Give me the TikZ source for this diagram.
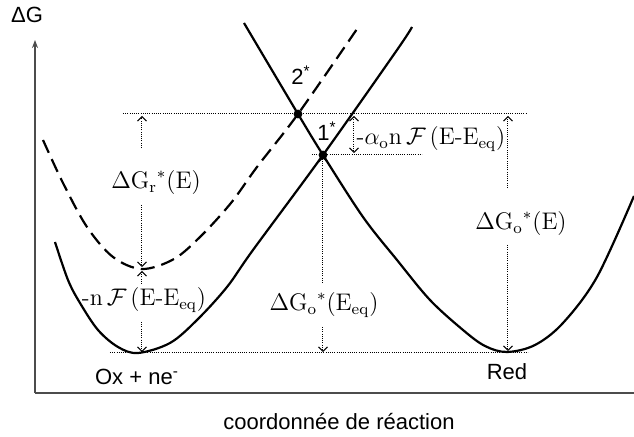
\documentclass[tikz,border=0pt]{standalone}
\usepackage{fontspec}
\setsansfont{Liberation Sans}
\usetikzlibrary{arrows.meta}
\begin{document}
\begin{tikzpicture}[x=0.5pt,y=-0.5pt,
  curve/.style={line width=1.1pt, line join=round},
  dashcurve/.style={curve, dash pattern=on 7pt off 3.5pt},
  dotline/.style={line width=0.5pt, dash pattern=on 0.5pt off 0.6pt},
  dotarrow/.style={dotline, -{Straight Barb[length=2.2pt,width=4.5pt,line width=0.5pt]}},
  axis/.style={line width=0.9pt, black!70},
  sflabel/.style={font=\sffamily\fontsize{11}{13}\selectfont, inner sep=0pt},
  mlabel/.style={font=\fontsize{12}{14}\selectfont, inner sep=0pt},
  dot/.style={circle, fill, inner sep=0pt, minimum size=4.4pt}
]
\useasboundingbox (0,0) rectangle (634,437);

% axes
\coordinate (O) at (35,393);
\coordinate (Ytop) at (35,40);
\coordinate (Xend) at (634,393);
\draw[axis, -{Stealth[length=4pt,width=3pt]}] (O) -- (Ytop);
\draw[axis] (O) -- (Xend);

% curves
\draw[curve] plot[smooth, tension=0.55] coordinates {(55,242) (68,280) (80,303) (98,330) (118,347) (138,353) (170,343) (197,320) (227,287) (253,250) (323,155) (397,50) (412,27)};
\draw[dashcurve] plot[smooth, tension=0.55] coordinates {(43,140) (63,183) (87,227) (113,257) (142,269) (174,259) (201,236) (231,203) (257,167) (298,114) (357,29)};
\draw[curve] plot[smooth, tension=0.55] coordinates {(244,23) (298,114) (323,155) (363,217) (397,260) (430,300) (463,330) (485,346) (507,352) (535,345) (563,323) (597,277) (634,196)};

% dotted levels
\draw[dotline] (123,114) -- (527,114);
\draw[dotline] (312,155) -- (422,155);
\draw[dotline] (110,353) -- (528,353);

% intersection points
\node[dot] (s2) at (298,114) {};
\node[dot] (s1) at (323,155) {};

% labels
\node[sflabel] (lDG) at (27,15) {ΔG};
\node[sflabel] (l2) at (301,75) {2\textsuperscript{*}};
\node[sflabel] (l1) at (327,131) {1\textsuperscript{*}};
\node[mlabel] (lalpha) at (431,139) {$\mbox{-}\alpha_{\mathrm{o}}\mathrm{n}\,\mathcal{F}\,\mathrm{(E\mbox{-}E_{eq})}$};
\node[mlabel] (lGr) at (156,183) {$\Delta\mathrm{G_r}^{*}\mathrm{(E)}$};
\node[mlabel] (lGoE) at (521,224) {$\Delta\mathrm{G_o}^{*}\mathrm{(E)}$};
\node[mlabel] (lGoEq) at (324,305) {$\Delta\mathrm{G_o}^{*}\mathrm{(E_{eq})}$};
\node[mlabel] (lnF) at (144,300) {$\mbox{-}\mathrm{n}\,\mathcal{F}\,\mathrm{(E\mbox{-}E_{eq})}$};
\node[sflabel] (lOx) at (137,377) {Ox + ne\textsuperscript{-}};
\node[sflabel] (lRed) at (507,372) {Red};
\node[sflabel] (lx) at (339,422) {coordonnée de réaction};

% arrows
\draw[dotarrow] (142,148) -- (142,116);
\draw[dotarrow] (142,205) -- (142,267);
\draw[dotarrow] (142,284) -- (142,271);
\draw[dotarrow] (142,322) -- (142,352);
\draw[dotarrow] (323,283) -- (323,157);
\draw[dotarrow] (323,327) -- (323,352);
\draw[dotarrow] (508,188) -- (508,116);
\draw[dotarrow] (508,245) -- (508,351);
\draw[dotline, {Straight Barb[length=2.2pt,width=4.5pt,line width=0.5pt]}-{Straight Barb[length=2.2pt,width=4.5pt,line width=0.5pt]}] (354,116) -- (354,153);
\end{tikzpicture}
\end{document}
